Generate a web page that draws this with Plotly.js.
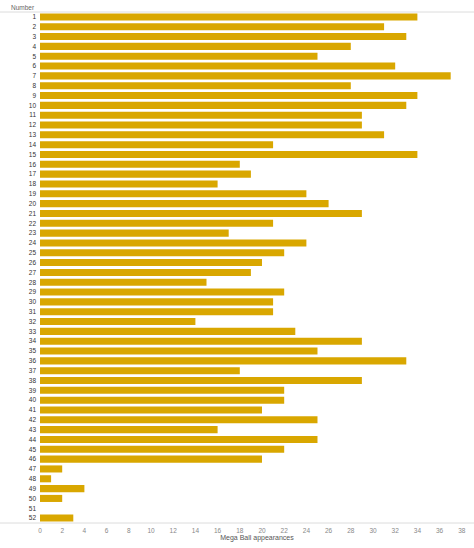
<!DOCTYPE html>
<html>
<head>
<meta charset="utf-8">
<script src="https://cdn.plot.ly/plotly-3.0.1.min.js"></script>
<style>
  html, body { margin: 0; padding: 0; background: #fff; }
  #bar { width: 474px; height: 548px; }
</style>
</head>
<body>
<div id="bar"></div>
<script>
// Mega Ball numbers and how often each one came up
var numbers = [];
for (var i = 1; i <= 52; i++) numbers.push(String(i));

var appearances = [34, 31, 33, 28, 25, 32, 37, 28, 34, 33,
                   29, 29, 31, 21, 34, 18, 19, 16, 24, 26,
                   29, 21, 17, 24, 22, 20, 19, 15, 22, 21,
                   21, 14, 23, 29, 25, 33, 18, 29, 22, 22,
                   20, 25, 16, 25, 22, 20, 2, 1, 4, 2,
                   0, 3];

var xTicks = [0, 2, 4, 6, 8, 10, 12, 14, 16, 18, 20, 22, 24, 26, 28, 30, 32, 34, 36, 38];

var trace = {
  x: appearances,
  y: numbers,
  type: 'bar',
  orientation: 'h',
  marker: {color: '#d9a700'},
  width: 0.72,
  hoverinfo: 'x+y'
};

var layout = {
  width: 474,
  height: 548,
  margin: {l: 40, r: 0, t: 12, b: 25},
  paper_bgcolor: '#fff',
  plot_bgcolor: '#fff',
  showlegend: false,
  font: {family: 'Arial, Liberation Sans, sans-serif'},
  xaxis: {
    range: [0, 39.1],
    tickvals: xTicks,
    ticktext: xTicks.map(String),
    showgrid: false,
    zeroline: false,
    showline: false,
    ticks: '',
    ticklabelstandoff: 2,
    tickfont: {size: 6.5, color: '#888'},
    title: {text: 'Mega Ball appearances', font: {size: 7, color: '#555'}, standoff: 2},
    fixedrange: true
  },
  yaxis: {
    type: 'category',
    autorange: 'reversed',
    range: [51.5, -0.5],
    showgrid: false,
    zeroline: false,
    ticks: '',
    ticklabelstandoff: 3,
    tickfont: {size: 6.5, color: '#333'},
    fixedrange: true
  },
  shapes: [
    {type: 'line', xref: 'paper', yref: 'paper', x0: -40 / 434, x1: 1, y0: 1, y1: 1,
     line: {color: '#dcdcdc', width: 1}},
    {type: 'line', xref: 'paper', yref: 'paper', x0: -40 / 434, x1: 1, y0: 0, y1: 0,
     line: {color: '#dcdcdc', width: 1}}
  ],
  annotations: [
    {text: 'Number', xref: 'paper', yref: 'paper', x: -3 / 434, y: 1, xanchor: 'right',
     yanchor: 'bottom', showarrow: false, font: {size: 6.5, color: '#666'}, yshift: -1}
  ]
};

Plotly.newPlot('bar', [trace], layout, {displayModeBar: false, staticPlot: true});
</script>
</body>
</html>
